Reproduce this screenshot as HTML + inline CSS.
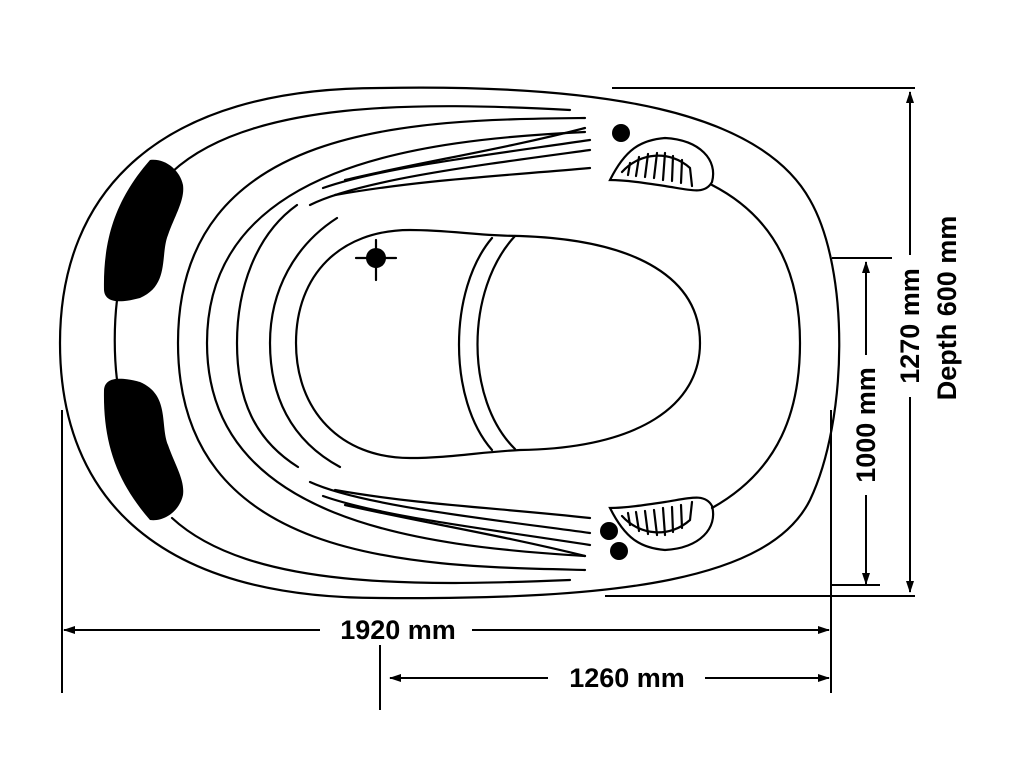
<!DOCTYPE html>
<html><head><meta charset="utf-8"><style>html,body{margin:0;padding:0;background:#fff}svg{display:block}</style></head><body>
<svg width="1020" height="765" viewBox="0 0 1020 765" xmlns="http://www.w3.org/2000/svg">
<defs><marker id="a" markerWidth="12" markerHeight="8" refX="11" refY="4" orient="auto-start-reverse" markerUnits="userSpaceOnUse"><path d="M0,0 L12,4 L0,8 z" fill="#000"/></marker></defs>
<g fill="none" stroke="#000" stroke-width="2.2" stroke-linecap="round">
<path d="M380,88 C600,84 760,110 810,200 C850,270 848,420 810,500 C770,580 620,600 380,598 C160,598 60,500 60,343 C60,190 160,88 380,88 Z"/>
<path d="M172,172 C250,100 420,102 570,110"/>
<path d="M172,518 C250,590 420,586 570,580"/>
<path d="M712,185 C780,220 800,280 800,343 C800,410 780,470 712,508"/>
<path d="M117,300 C114,325 114,355 117,380"/>
<path d="M585,118 C420,120 178,120 178,343 C178,566 420,566 585,570"/>
<path d="M585,132 C420,140 207,165 207,343 C207,521 420,546 585,556"/>
<path d="M297,205 C255,235 237,290 237,343 C237,400 255,440 298,467"/>
<path d="M337,218 C295,245 270,290 270,343 C270,395 290,440 340,467"/>
<path d="M310,205 C360,180 480,165 590,150"/>
<path d="M323,188 C380,168 480,156 590,140"/>
<path d="M345,180 C420,162 500,150 585,128"/>
<path d="M335,195 C420,180 500,176 590,168"/>
<path d="M310,482 C360,505 480,518 590,533"/>
<path d="M323,496 C380,516 480,528 590,545"/>
<path d="M345,505 C420,522 500,535 585,556"/>
<path d="M335,490 C420,505 500,508 590,518"/>
<path d="M410,230 C450,230 480,236 520,236 C640,240 700,280 700,343 C700,405 640,448 520,450 C480,452 450,458 410,458 C340,458 296,410 296,343 C296,275 340,230 410,230 Z"/>
<path d="M492,238 C448,290 448,400 492,450"/>
<path d="M515,236 C465,290 465,400 515,449"/>
<path d="M356,258 L396,258 M376,240 L376,280"/>
<path d="M610,180 C625,150 640,140 665,138 C700,140 718,160 712,182 C705,195 690,190 665,186 C645,183 625,180 610,180 Z"/>
<path d="M622,172 C640,152 670,150 690,168 L692,186"/>
<path d="M628,175 L630,163 M636,176 L639,157 M645,177 L648,154 M654,178 L657,153 M663,180 L665,153 M672,181 L673,156 M681,183 L682,160"/>
<path d="M610,508 C625,538 640,548 665,550 C700,548 718,528 712,506 C705,493 690,498 665,502 C645,505 625,508 610,508 Z"/>
<path d="M622,516 C640,536 670,538 690,520 L692,502"/>
<path d="M628,513 L630,525 M636,512 L639,531 M645,511 L648,534 M654,510 L657,535 M663,508 L665,535 M672,507 L673,532 M681,505 L682,528"/>
</g>
<circle cx="376" cy="258" r="10"/>
<circle cx="621" cy="133" r="9"/>
<circle cx="609" cy="531" r="9"/>
<circle cx="619" cy="551" r="9"/>
<path d="M150,160 C165,158 180,170 183,185 C185,200 175,215 168,235 C160,255 170,285 140,298 C125,302 105,305 104,290 C103,240 115,200 150,160 Z"/>
<path d="M150,520 C165,522 180,510 183,495 C185,480 175,465 168,445 C160,425 170,395 140,382 C125,378 105,375 104,390 C103,440 115,480 150,520 Z"/>
<g stroke="#000" stroke-width="2" fill="none">
<path d="M612,88 L915,88 M605,596 L915,596 M832,258 L892,258 M832,585 L880,585"/>
<path d="M62,410 L62,693 M831,410 L831,693 M380,645 L380,710"/>
<path d="M910,92 L910,255 M910,397 L910,592" marker-start="url(#a)" marker-end="url(#a)"/>
<path d="M866,262 L866,355 M866,495 L866,584" marker-start="url(#a)" marker-end="url(#a)"/>
<path d="M64,630 L320,630 M472,630 L829,630" marker-start="url(#a)" marker-end="url(#a)"/>
<path d="M390,678 L548,678 M705,678 L829,678" marker-start="url(#a)" marker-end="url(#a)"/>
</g>
<g font-family="Liberation Sans, sans-serif" font-weight="bold" font-size="27" fill="#000" text-anchor="middle">
<text x="398" y="639">1920 mm</text>
<text x="627" y="687">1260 mm</text>
<text transform="translate(919,326) rotate(-90)">1270 mm</text>
<text transform="translate(875,425) rotate(-90)">1000 mm</text>
<text transform="translate(956,308) rotate(-90)">Depth 600 mm</text>
</g>
</svg>
</body></html>
